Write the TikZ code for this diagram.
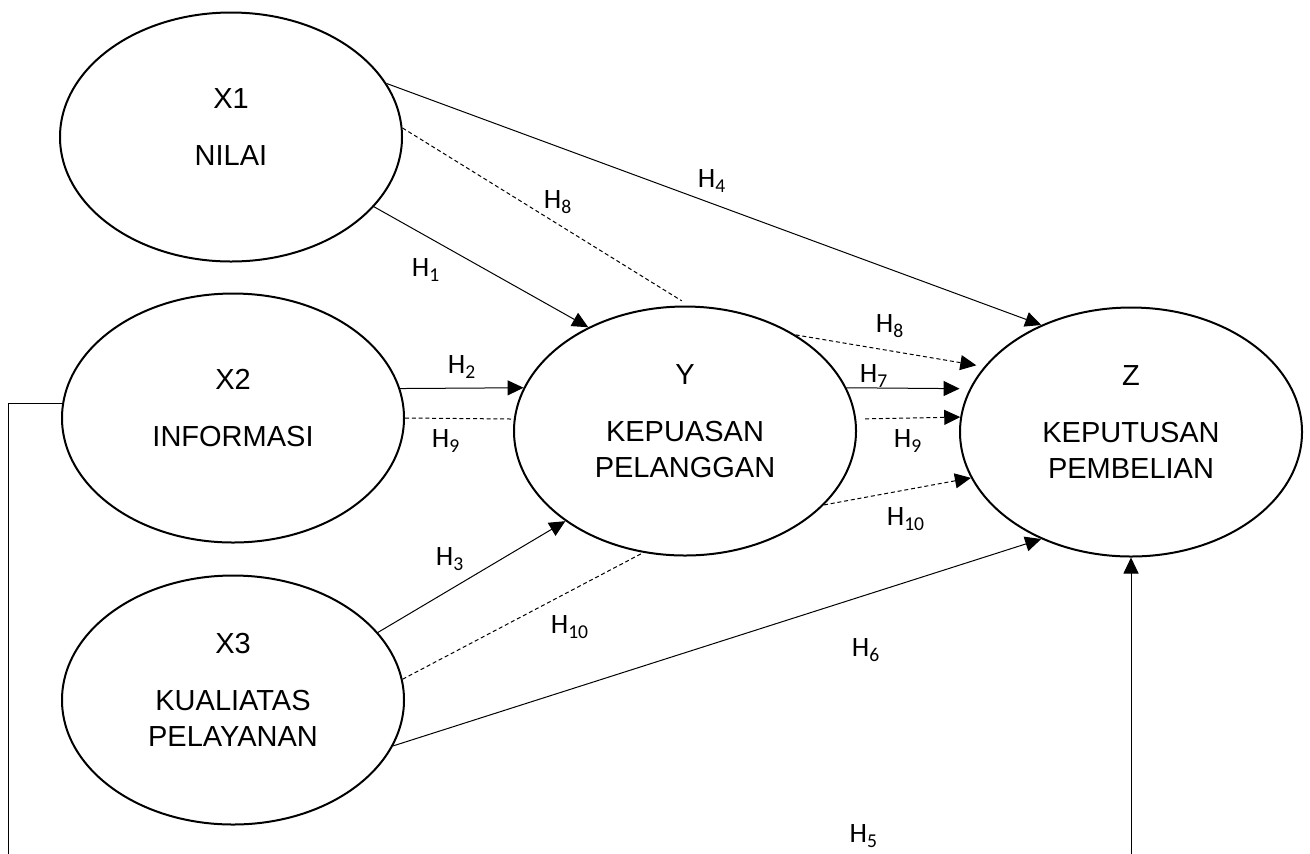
\documentclass[tikz,border=0pt]{standalone}
\usepackage{fontspec}
\setmainfont{Liberation Sans}
\newfontfamily\hfont{Carlito}
\usetikzlibrary{shapes.geometric,arrows.meta}

\tikzset{
  var/.style={ellipse,draw,line width=1pt,minimum width=171pt,minimum height=124.5pt,inner sep=0pt},
  vtext/.style={align=center,inner sep=0pt,font=\fontsize{14.5}{18}\selectfont},
  hyp/.style={line width=0.5pt,-{Triangle[length=8pt,width=7.5pt]}},
  hypdash/.style={hyp,dash pattern=on 2pt off 1.4pt},
  dashln/.style={line width=0.5pt,dash pattern=on 2pt off 1.4pt},
  hlabel/.style={inner sep=0pt,font=\hfont\fontsize{14}{16}\selectfont}
}

\begin{document}
\begin{tikzpicture}[x=0.5pt,y=-0.5pt]
\useasboundingbox (0,0) rectangle (1310,853);
\clip (0,0) rectangle (1310,853);
  \node[var] (x1) at (231,137) {};
  \node[var] (x2) at (233,418) {};
  \node[var] (x3) at (233,700) {};
  \node[var] (y) at (685,431) {};
  \node[var] (z) at (1131,432) {};
  \node[vtext] (x1txt) at ([yshift=5pt]x1.center) {X1\\[10.5pt]NILAI};
  \node[vtext] (x2txt) at ([yshift=5pt]x2.center) {X2\\[10.5pt]INFORMASI};
  \node[vtext] (x3txt) at ([yshift=5pt]x3.center) {X3\\[10.5pt]KUALIATAS\\PELAYANAN};
  \node[vtext] (ytxt) at ([yshift=5pt]y.center) {Y\\[10.5pt]KEPUASAN\\PELANGGAN};
  \node[vtext] (ztxt) at ([yshift=5pt]z.center) {Z\\[10.5pt]KEPUTUSAN\\PEMBELIAN};
  \coordinate (fb) at (8,880);
  \draw[hyp] (x1.19) -- (z.130);
  \draw[dashln,shorten >=4.5pt] (x1.3) -- (y.88);
  \draw[hyp] (x1.-26) -- (y.133);
  \draw[hyp] (x2.10) -- (y.165);
  \draw[dashln] (x2.0) -- (y.176);
  \draw[hyp] (x3.25) -- (y.-143);
  \draw[dashln] (x3.7) -- (y.-109);
  \draw[hyp] (x3.-16) -- (z.-130);
  \draw[hypdash,shorten >=4pt] (y.41) -- (z.156);
  \draw[hyp,shorten >=5pt] (y.15) -- (z.165);
  \draw[hypdash,shorten <=4.5pt] (y.4) -- (z.175);
  \draw[hypdash] (y.-28) -- (z.-164);
  \draw[hyp] (x2.175) -| (fb) -| (z.south);
  \foreach \x/\y/\l [count=\i] in
    { 712/181/4, 558/202/8, 426/270/1, 462/367/2, 446/441/9,
      450/559/3, 570/627/10, 866/650/6, 890/326/8, 874/376/7,
      908/441/9, 906/519/10, 866/836/5
    }
    \node[hlabel] (lab\i) at (\x,\y) {H\textsubscript{\l}};
\end{tikzpicture}
\end{document}
